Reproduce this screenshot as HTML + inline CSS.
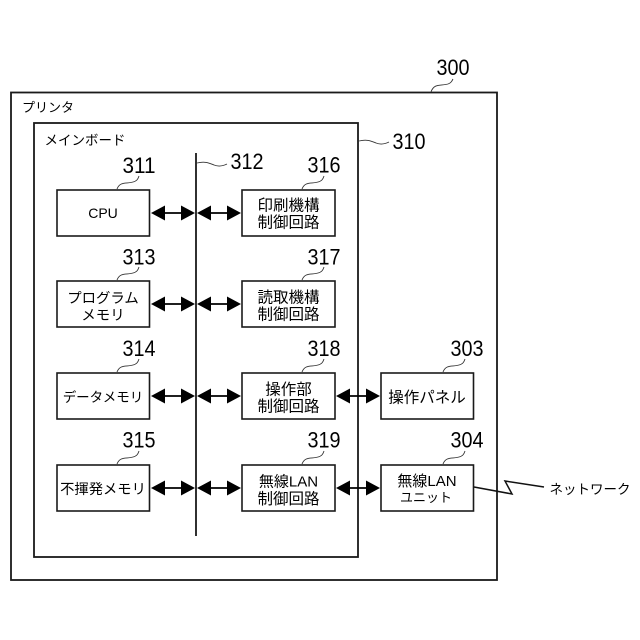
<!DOCTYPE html>
<html lang="ja">
<head>
<meta charset="utf-8">
<style>
html,body{margin:0;padding:0;background:#fff;}
svg{display:block;}
text{font-family:"Liberation Sans","Noto Sans CJK JP",sans-serif;fill:#000;}
.n{font-size:22px;}
.t{font-size:14px;text-anchor:middle;}
.k{font-size:15.500px;}
.m{font-size:15px;}
.b{fill:#fff;stroke:#1a1a1a;stroke-width:1.6;}
.c{fill:none;stroke:#333;stroke-width:.9;}
.w{stroke:#000;stroke-width:1.8;}
.h{fill:#000;}
</style>
</head>
<body>
<svg width="640" height="640" viewBox="0 0 640 640" xmlns="http://www.w3.org/2000/svg">
<rect x="0" y="0" width="640" height="640" fill="#fff"/>
<rect x="11" y="92.5" width="486" height="487.5" fill="#fff" stroke="#1a1a1a" stroke-width="1.8"/>
<rect x="34" y="123" width="324" height="434" fill="#fff" stroke="#1a1a1a" stroke-width="1.8"/>
<line x1="196" y1="153" x2="196" y2="536" stroke="#1a1a1a" stroke-width="1.8"/>

<g class="b">
<rect x="57" y="190" width="92.5" height="46"/>
<rect x="57" y="281" width="92.5" height="46"/>
<rect x="57" y="373" width="92.5" height="46"/>
<rect x="57" y="465" width="92.5" height="46"/>
<rect x="242" y="190" width="93" height="46"/>
<rect x="242" y="281" width="93" height="46"/>
<rect x="242" y="373" width="93" height="46"/>
<rect x="242" y="465" width="93" height="46"/>
<rect x="381" y="373" width="92.5" height="46"/>
<rect x="381" y="465" width="92.5" height="46"/>
</g>

<g id="arrows">
<g class="w">
<line x1="160" y1="213" x2="186" y2="213"/><line x1="207" y1="213" x2="232" y2="213"/>
<line x1="160" y1="304" x2="186" y2="304"/><line x1="207" y1="304" x2="232" y2="304"/>
<line x1="160" y1="396" x2="186" y2="396"/><line x1="207" y1="396" x2="232" y2="396"/>
<line x1="160" y1="488" x2="186" y2="488"/><line x1="207" y1="488" x2="232" y2="488"/>
<line x1="345" y1="396" x2="371" y2="396"/>
<line x1="345" y1="488" x2="371" y2="488"/>
</g>
<g class="h">
<path d="M151 213l14-7.500v15zM195 213l-14-7.500v15zM197 213l14-7.500v15zM241 213l-14-7.500v15z"/>
<path d="M151 304l14-7.500v15zM195 304l-14-7.500v15zM197 304l14-7.500v15zM241 304l-14-7.500v15z"/>
<path d="M151 396l14-7.500v15zM195 396l-14-7.500v15zM197 396l14-7.500v15zM241 396l-14-7.500v15z"/>
<path d="M151 488l14-7.500v15zM195 488l-14-7.500v15zM197 488l14-7.500v15zM241 488l-14-7.500v15z"/>
<path d="M336 396l14-7.500v15zM380 396l-14-7.500v15z"/>
<path d="M336 488l14-7.500v15zM380 488l-14-7.500v15z"/>
</g>
</g>

<g class="c">
<path d="M431 92c3-9 10-6 17-8 3-1 4-3 5-5"/>
<path d="M359 141c8-2 12 0 17 2 5 2 9 1 13-1"/>
<path d="M197 163c8-2 12 0 17 2 5 2 9 1 13-1"/>
<path d="M117 189c3-8 10-5 16-7 4-1 5-3 6-6"/>
<path d="M302 189c3-8 10-5 16-7 4-1 5-3 6-6"/>
<path d="M117 280c3-8 10-5 16-7 4-1 5-3 6-6"/>
<path d="M302 280c3-8 10-5 16-7 4-1 5-3 6-6"/>
<path d="M117 372c3-8 10-5 16-7 4-1 5-3 6-6"/>
<path d="M302 372c3-8 10-5 16-7 4-1 5-3 6-6"/>
<path d="M117 464c3-8 10-5 16-7 4-1 5-3 6-6"/>
<path d="M302 464c3-8 10-5 16-7 4-1 5-3 6-6"/>
<path d="M443 372c3-8 10-5 16-7 4-1 5-3 6-6"/>
<path d="M443 464c3-8 10-5 16-7 4-1 5-3 6-6"/>
</g>

<path d="M474 487L512 494L505 481L544 487" fill="none" stroke="#111" stroke-width="1.500"/>

<g class="n">
<text x="436.500" y="75" textLength="33" lengthAdjust="spacingAndGlyphs">300</text>
<text x="392.500" y="149" textLength="33" lengthAdjust="spacingAndGlyphs">310</text>
<text x="230.500" y="169" textLength="33" lengthAdjust="spacingAndGlyphs">312</text>
<text x="122.500" y="173" textLength="33" lengthAdjust="spacingAndGlyphs">311</text>
<text x="307.500" y="172.500" textLength="33" lengthAdjust="spacingAndGlyphs">316</text>
<text x="122.500" y="264.500" textLength="33" lengthAdjust="spacingAndGlyphs">313</text>
<text x="307.500" y="264.500" textLength="33" lengthAdjust="spacingAndGlyphs">317</text>
<text x="122.500" y="356" textLength="33" lengthAdjust="spacingAndGlyphs">314</text>
<text x="307.500" y="356" textLength="33" lengthAdjust="spacingAndGlyphs">318</text>
<text x="122.500" y="447.500" textLength="33" lengthAdjust="spacingAndGlyphs">315</text>
<text x="307.500" y="447.500" textLength="33" lengthAdjust="spacingAndGlyphs">319</text>
<text x="450.500" y="356" textLength="33" lengthAdjust="spacingAndGlyphs">303</text>
<text x="450.500" y="447.500" textLength="33" lengthAdjust="spacingAndGlyphs">304</text>
</g>

<text font-size="13" x="22" y="112">プリンタ</text>
<text font-size="13.500" x="44.500" y="145">メインボード</text>
<text font-size="13.500" x="549.500" y="494">ネットワーク</text>

<g class="t">
<text x="103" y="218">CPU</text>
<text x="103" y="303" font-size="14.400">プログラム</text>
<text x="103" y="320" font-size="14.400">メモリ</text>
<text x="103" y="402" font-size="13.500">データメモリ</text>
<text x="103" y="494" font-size="14.300">不揮発メモリ</text>
<text class="k" x="288.500" y="210.500">印刷機構</text>
<text class="k" x="288.500" y="227.500">制御回路</text>
<text class="k" x="288.500" y="302.500">読取機構</text>
<text class="k" x="288.500" y="319.500">制御回路</text>
<text class="k" x="288.500" y="394.500">操作部</text>
<text class="k" x="288.500" y="411.500">制御回路</text>
<text class="m" x="288.500" y="486.500">無線LAN</text>
<text class="k" x="288.500" y="504">制御回路</text>
<text class="k" x="427" y="402.500">操作パネル</text>
<text class="m" x="427" y="486">無線LAN</text>
<text x="426" y="502" font-size="13">ユニット</text>
</g>
</svg>
</body>
</html>
